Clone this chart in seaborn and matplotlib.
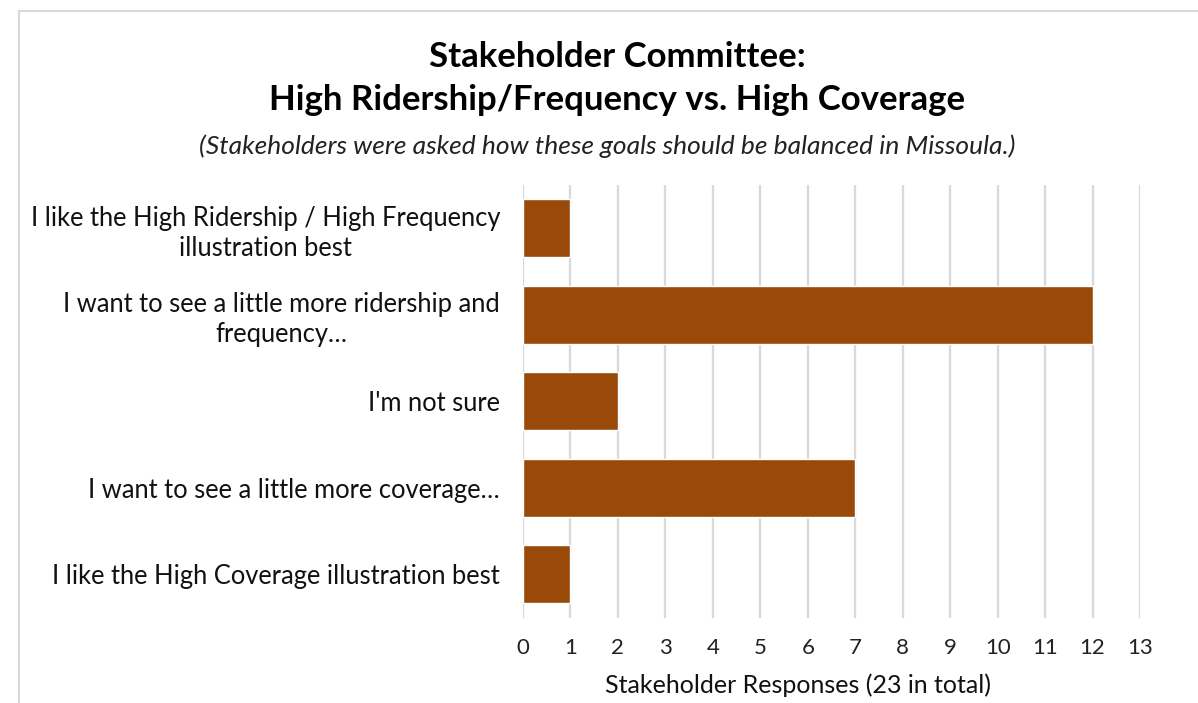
import matplotlib
matplotlib.use("Agg")
import matplotlib.pyplot as plt
from matplotlib.lines import Line2D
import seaborn as sns
import pandas as pd

categories = [
    "I like the High Ridership / High Frequency\nillustration best",
    "I want to see a little more ridership and\nfrequency\u2026",
    "I'm not sure",
    "I want to see a little more coverage\u2026",
    "I like the High Coverage illustration best",
]
responses = [1, 12, 2, 7, 1]
x_ticks = list(range(0, 14))

title_line1 = "Stakeholder Committee:"
title_line2 = "High Ridership/Frequency vs. High Coverage"
subtitle = "(Stakeholders were asked how these goals should be balanced in Missoula.)"
xlabel = "Stakeholder Responses (23 in total)"

sns.set_theme(style="white")
plt.rcParams["font.family"] = ["Lato", "DejaVu Sans"]

df = pd.DataFrame({"category": categories, "responses": responses})

fig = plt.figure(figsize=(11.98, 7.03), dpi=100)
ax = fig.add_axes([523 / 1198, 1 - 617.5 / 703, (1140 - 523) / 1198, (617.5 - 185) / 703])

sns.barplot(data=df, x="responses", y="category", orient="h", color="#9A4A08",
            saturation=1, width=0.67, ax=ax, zorder=3)

ax.set_xlim(0, 13)
ax.set_ylim(4.5, -0.5)
ax.set_xticks(x_ticks)
ax.set_xticklabels([str(t) for t in x_ticks], fontsize=16, color="#222222")
ax.set_yticks(range(len(categories)))
ax.set_yticklabels(categories, fontsize=18.4, color="#111111", multialignment="center",
                   linespacing=1.25)
ax.tick_params(axis="both", length=0)
ax.tick_params(axis="x", pad=15)
ax.tick_params(axis="y", pad=16.5)
ax.xaxis.grid(True, color="#d9d9d9", linewidth=1.6, zorder=0)
ax.yaxis.grid(False)
ax.set_axisbelow(True)
for s in ax.spines.values():
    s.set_visible(False)
ax.set_ylabel("")
ax.set_xlabel(xlabel, fontsize=18, color="#111111")
ax.xaxis.set_label_coords((798 - 523) / 617, -(685 - 617.5) / 432.5)
ax.xaxis.label.set_va("center")

fig.text(0.515, 1 - 57 / 703, title_line1, ha="center", va="center",
         fontsize=25, fontweight="bold", color="#000000")
fig.text(0.515, 1 - 100 / 703, title_line2, ha="center", va="center",
         fontsize=25, fontweight="bold", color="#000000")
fig.text(0.507, 1 - 146 / 703, subtitle, ha="center", va="center",
         fontsize=19, fontstyle="italic", color="#222222")

# outer chart border (top and left visible)
fig.add_artist(Line2D([19 / 1198, 1.0], [1 - 11 / 703, 1 - 11 / 703], color="#d9d9d9", linewidth=1.5))
fig.add_artist(Line2D([19 / 1198, 19 / 1198], [0, 1 - 11 / 703], color="#d9d9d9", linewidth=1.5))

fig.savefig("out.png", dpi=100)
